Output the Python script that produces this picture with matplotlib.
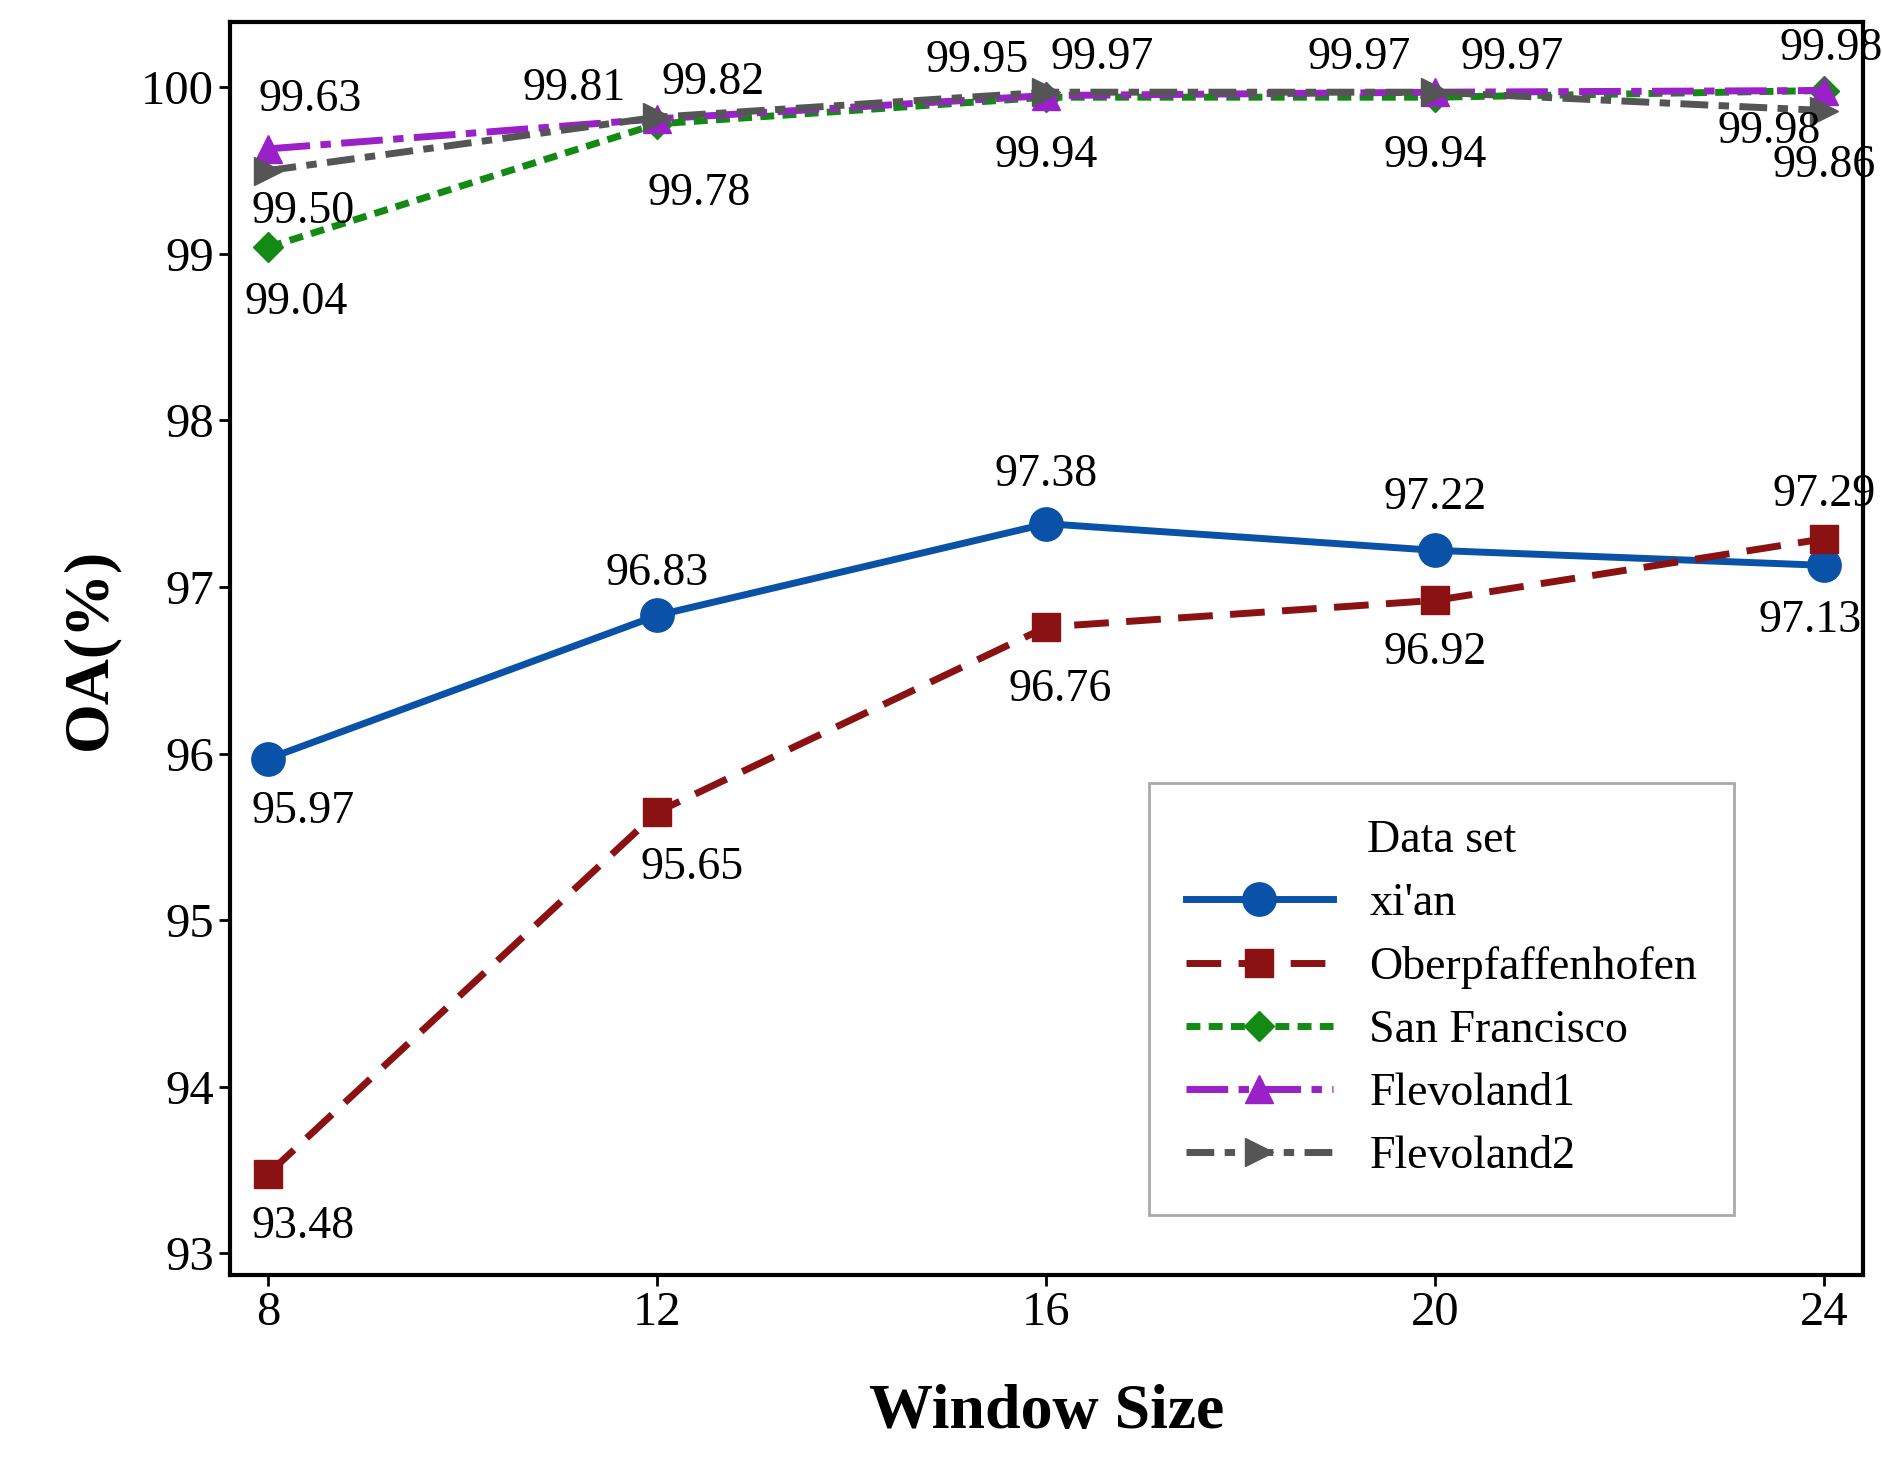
import matplotlib.pyplot as plt

plt.rcParams["font.family"] = "Liberation Serif"

window = [8, 12, 16, 20, 24]
xian = [95.97, 96.83, 97.38, 97.22, 97.13]
ober = [93.48, 95.65, 96.76, 96.92, 97.29]
sanfran = [99.04, 99.78, 99.94, 99.94, 99.98]
flevo1 = [99.63, 99.81, 99.95, 99.97, 99.98]
flevo2 = [99.50, 99.82, 99.97, 99.97, 99.86]

fig = plt.figure(figsize=(18.82, 14.81), dpi=100)
ax = fig.add_axes([0.122, 0.139, 0.868, 0.846])

series = [
    ("xi'an", xian, "#0a52a8", "-", "o", 24, [(25, -38), (0, 30), (0, 35), (0, 38), (-10, -40)]),
    ("Oberpfaffenhofen", ober, "#8b1212", (0, (5, 2.5)), "s", 20, [(25, -38), (25, -40), (10, -45), (0, -38), (0, 32)]),
    ("San Francisco", sanfran, "#138a13", (0, (2, 1.2)), "D", 15, [(20, -40), (30, -50), (0, -42), (0, -42), (-40, -30)]),
    ("Flevoland1", flevo1, "#9a20c8", (0, (6, 1.5, 1.5, 1.5)), "^", 20, [(30, 35), (-60, 22), (-50, 25), (-55, 25), (5, 30)]),
    ("Flevoland2", flevo2, "#555555", (0, (4, 1.5, 1.5, 1.5)), ">", 20, [(25, -30), (40, 25), (40, 25), (55, 25), (0, -40)]),
]

for name, vals, col, ls, mk, ms, offs in series:
    ax.plot(window, vals, color=col, linestyle=ls, marker=mk, markersize=ms,
            linewidth=5, label=name)
    for x, y, off in zip(window, vals, offs):
        ax.annotate(f"{y:.2f}", (x, y), xytext=off, textcoords="offset points",
                    ha="center", va="center", fontsize=33)

ax.set_xlim(7.6, 24.4)
ax.set_ylim(92.87, 100.39)
ax.set_xticks(window)
ax.set_yticks([93, 94, 95, 96, 97, 98, 99, 100])
ax.tick_params(labelsize=35, width=2, length=8)
for s in ax.spines.values():
    s.set_linewidth(3)
ax.set_xlabel("Window Size", fontsize=46, fontweight="bold", labelpad=35)
ax.set_ylabel("OA(%)", fontsize=46, fontweight="bold", labelpad=15)

leg = ax.legend(title="Data set", loc="lower right", bbox_to_anchor=(0.935, 0.03),
                fontsize=33, title_fontsize=33, handlelength=3.2, fancybox=False,
                framealpha=1, edgecolor="#aaaaaa", borderpad=0.8, labelspacing=0.45)
leg.get_frame().set_linewidth(2)

fig.savefig("out.png")
